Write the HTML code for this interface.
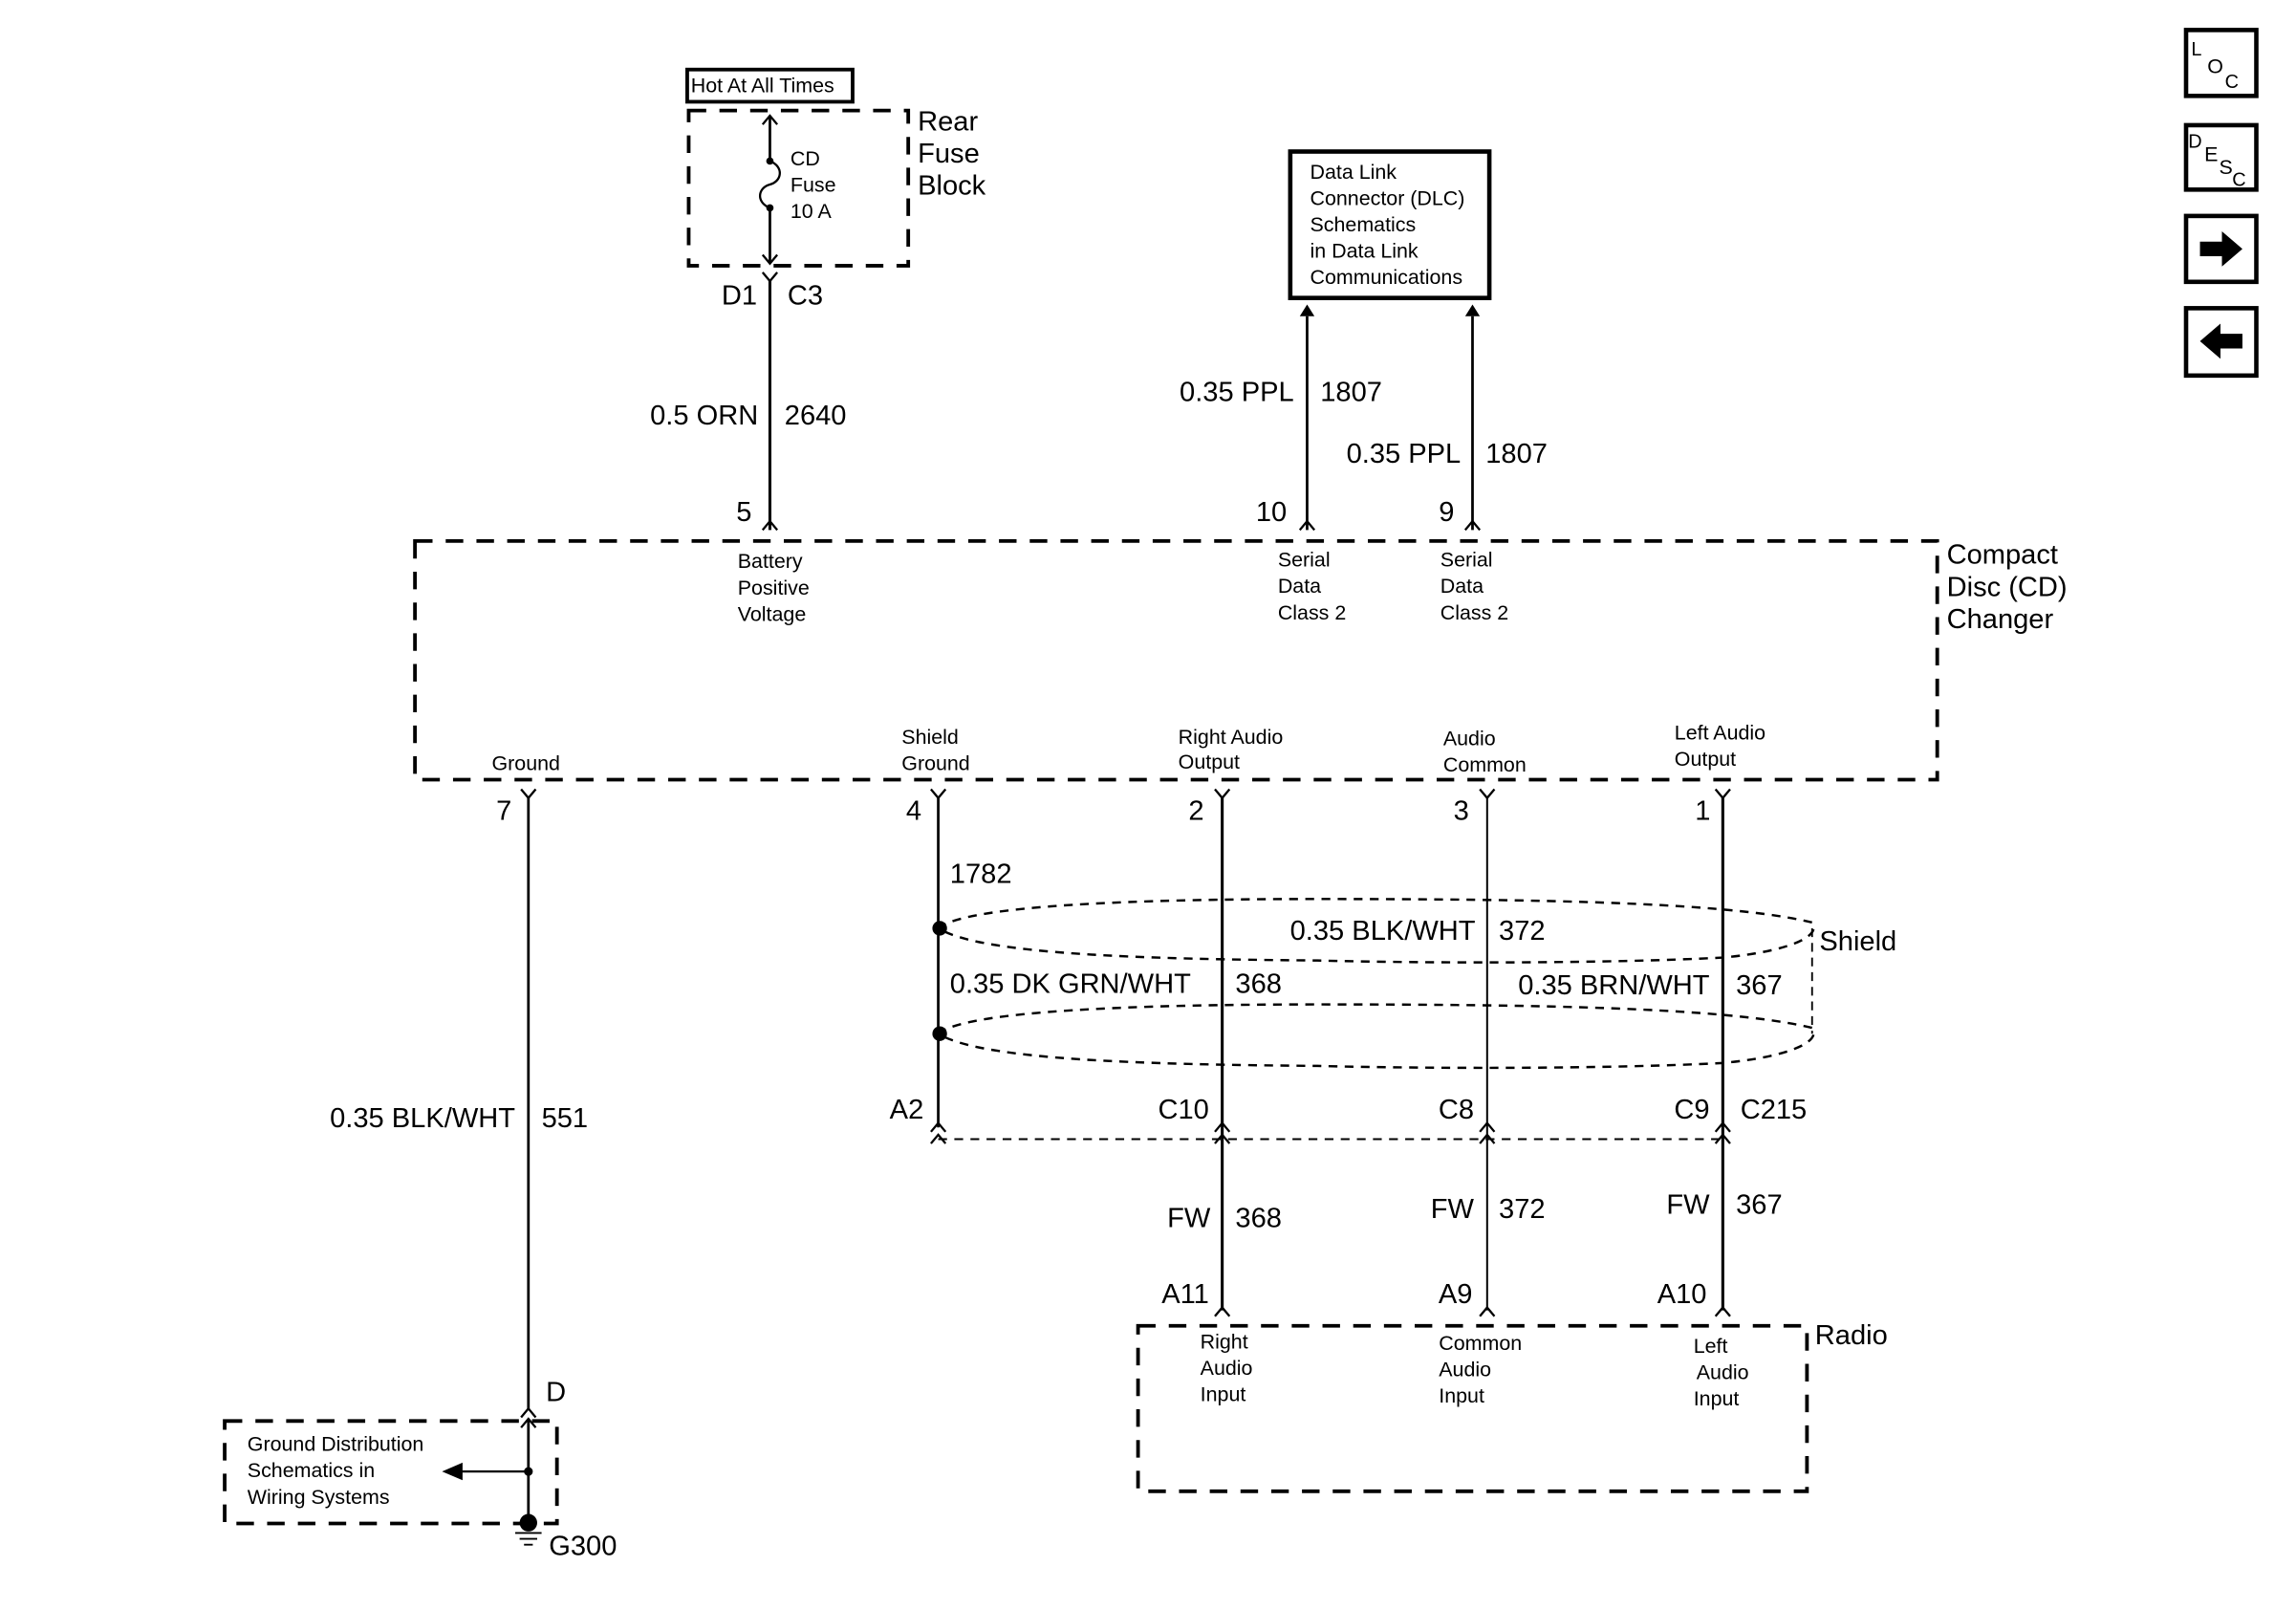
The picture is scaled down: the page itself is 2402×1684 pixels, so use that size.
<!DOCTYPE html>
<html><head><meta charset="utf-8"><style>
html,body{margin:0;padding:0;background:#fff;}
svg{display:block;}
text{font-family:"Liberation Sans",sans-serif;fill:#000;}
.b{font-size:19px;}
.s{font-size:14px;}
</style></head><body>
<svg width="2402" height="1684" viewBox="0 0 1568.6 1099.6" preserveAspectRatio="none" xmlns="http://www.w3.org/2000/svg">
<rect width="1570" height="1100" fill="#fff"/>
<g fill="none" stroke="#000">
<rect x="469.5" y="47.5" width="113" height="22" stroke-width="2.5"/>
<rect x="470.5" y="75.5" width="150" height="106" stroke-width="2.5" stroke-dasharray="12,9"/>
<line x1="526" y1="79" x2="526" y2="110" stroke-width="1.8"/>
<path d="M526 110 C536 114,534 124,526 126 C518 128,516 138,526 142" stroke-width="1.5"/>
<line x1="526" y1="142" x2="526" y2="180" stroke-width="1.8"/>
<path d="M521 85 L526 79 L531 85 M521 174 L526 180 L531 174" stroke-width="1.5"/>
<path d="M521 186 L526 192 L531 186" stroke-width="1.5"/>
<line x1="526" y1="192" x2="526" y2="362" stroke-width="2"/>
<path d="M521 362 L526 356 L531 362" stroke-width="1.5"/>
<rect x="881.5" y="103.5" width="136" height="100" stroke-width="3"/>
<line x1="893" y1="216" x2="893" y2="362" stroke-width="1.8"/>
<line x1="1006" y1="216" x2="1006" y2="362" stroke-width="1.8"/>
<path d="M888 362 L893 356 L898 362 M1001 362 L1006 356 L1011 362" stroke-width="1.5"/>
<rect x="283.5" y="369.5" width="1040" height="163" stroke-width="2.5" stroke-dasharray="12,9"/>
<path d="M356 539 L361 545 L366 539 M636 539 L641 545 L646 539 M830 539 L835 545 L840 539 M1011 539 L1016 545 L1021 539 M1172 539 L1177 545 L1182 539" stroke-width="1.5"/>
<line x1="361" y1="545" x2="361" y2="963" stroke-width="1.8"/>
<line x1="641" y1="545" x2="641" y2="770" stroke-width="1.8"/>
<line x1="835" y1="545" x2="835" y2="895" stroke-width="2"/>
<line x1="1016" y1="545" x2="1016" y2="895" stroke-width="1.3"/>
<line x1="1177" y1="545" x2="1177" y2="895" stroke-width="2"/>
<path d="M641 634 C660 618,780 614,900 614 C1050 614,1180 616,1238 630 C1245 640,1220 650,1177 654 C1100 658,980 658,900 656 C780 655,670 652,641 634" stroke-width="1.6" stroke-dasharray="6,5"/>
<path d="M641 706 C660 690,780 686,900 686 C1050 686,1180 688,1238 702 C1245 712,1220 722,1177 726 C1100 730,980 730,900 728 C780 727,670 724,641 706" stroke-width="1.6" stroke-dasharray="6,5"/>
<line x1="1238" y1="634" x2="1238" y2="706" stroke-width="1.2" stroke-dasharray="6,4"/>
<path d="M636 773 L641 767 L646 773 M830 773 L835 767 L840 773 M1011 773 L1016 767 L1021 773 M1172 773 L1177 767 L1182 773" stroke-width="1.5"/>
<path d="M636 781 L641 775 L646 781 M830 781 L835 775 L840 781 M1011 781 L1016 775 L1021 781 M1172 781 L1177 775 L1182 781" stroke-width="1.5"/>
<line x1="641" y1="778" x2="1177" y2="778" stroke-width="1.3" stroke-dasharray="6,5"/>
<path d="M830 899 L835 893 L840 899 M1011 899 L1016 893 L1021 899 M1172 899 L1177 893 L1182 899" stroke-width="1.5"/>
<rect x="777.5" y="905.5" width="457" height="113" stroke-width="2.5" stroke-dasharray="12,9"/>
<path d="M356 968 L361 962 L366 968 M356 975 L361 969 L366 975" stroke-width="1.5"/>
<rect x="153.5" y="970.5" width="227" height="70" stroke-width="2.5" stroke-dasharray="12,9"/>
<line x1="361" y1="969" x2="361" y2="1040" stroke-width="1.8"/>
<line x1="314" y1="1005" x2="361" y2="1005" stroke-width="1.5"/>
<path d="M352 1047 H370 M355 1051 H367 M358 1055 H364" stroke-width="1.2"/>
<rect x="1493.5" y="20.5" width="48" height="45" stroke-width="3"/>
<rect x="1493.5" y="85.5" width="48" height="44" stroke-width="3"/>
<rect x="1493.5" y="147.5" width="48" height="45" stroke-width="3"/>
<rect x="1493.5" y="210.5" width="48" height="46" stroke-width="3"/>
</g>
<g fill="#000">
<circle cx="526" cy="110" r="2.5"/><circle cx="526" cy="142" r="2.5"/>
<path d="M888 216 L893 208 L898 216 Z M1001 216 L1006 208 L1011 216 Z"/>
<circle cx="642" cy="634" r="5"/><circle cx="642" cy="706" r="5"/>
<circle cx="361" cy="1005" r="3"/>
<path d="M302 1005 L316 999 L316 1011 Z"/>
<circle cx="361" cy="1040" r="6"/>
<path d="M1503 165 H1518 V158 L1532 170 L1518 182 V175 H1503 Z"/>
<path d="M1532 228 H1517 V221 L1503 233 L1517 245 V238 H1532 Z"/>
</g>
<text x="472" y="63" class="s">Hot At All Times</text>
<text x="627" y="89" class="b">Rear</text>
<text x="627" y="111" class="b">Fuse</text>
<text x="627" y="133" class="b">Block</text>
<text x="540" y="113" class="s">CD</text>
<text x="540" y="131" class="s">Fuse</text>
<text x="540" y="149" class="s">10 A</text>
<text x="493" y="208" class="b">D1</text>
<text x="538" y="208" class="b">C3</text>
<text x="518" y="290" class="b" text-anchor="end">0.5 ORN</text>
<text x="536" y="290" class="b">2640</text>
<text x="503" y="356" class="b">5</text>
<text x="895" y="122" class="s">Data Link</text>
<text x="895" y="140" class="s">Connector (DLC)</text>
<text x="895" y="158" class="s">Schematics</text>
<text x="895" y="176" class="s">in Data Link</text>
<text x="895" y="194" class="s">Communications</text>
<text x="884" y="274" class="b" text-anchor="end">0.35 PPL</text>
<text x="902" y="274" class="b">1807</text>
<text x="998" y="316" class="b" text-anchor="end">0.35 PPL</text>
<text x="1015" y="316" class="b">1807</text>
<text x="858" y="356" class="b">10</text>
<text x="983" y="356" class="b">9</text>
<text x="1330" y="385" class="b">Compact</text>
<text x="1330" y="407" class="b">Disc (CD)</text>
<text x="1330" y="429" class="b">Changer</text>
<text x="504" y="388" class="s">Battery</text>
<text x="504" y="406" class="s">Positive</text>
<text x="504" y="424" class="s">Voltage</text>
<text x="873" y="387" class="s">Serial</text>
<text x="873" y="405" class="s">Data</text>
<text x="873" y="423" class="s">Class 2</text>
<text x="984" y="387" class="s">Serial</text>
<text x="984" y="405" class="s">Data</text>
<text x="984" y="423" class="s">Class 2</text>
<text x="336" y="526" class="s">Ground</text>
<text x="616" y="508" class="s">Shield</text>
<text x="616" y="526" class="s">Ground</text>
<text x="805" y="508" class="s">Right Audio</text>
<text x="805" y="525" class="s">Output</text>
<text x="986" y="509" class="s">Audio</text>
<text x="986" y="527" class="s">Common</text>
<text x="1144" y="505" class="s">Left Audio</text>
<text x="1144" y="523" class="s">Output</text>
<text x="339" y="560" class="b">7</text>
<text x="619" y="560" class="b">4</text>
<text x="812" y="560" class="b">2</text>
<text x="993" y="560" class="b">3</text>
<text x="1158" y="560" class="b">1</text>
<text x="649" y="603" class="b">1782</text>
<text x="1008" y="642" class="b" text-anchor="end">0.35 BLK/WHT</text>
<text x="1024" y="642" class="b">372</text>
<text x="649" y="678" class="b">0.35 DK GRN/WHT</text>
<text x="844" y="678" class="b">368</text>
<text x="1168" y="679" class="b" text-anchor="end">0.35 BRN/WHT</text>
<text x="1186" y="679" class="b">367</text>
<text x="1243" y="649" class="b">Shield</text>
<text x="352" y="770" class="b" text-anchor="end">0.35 BLK/WHT</text>
<text x="370" y="770" class="b">551</text>
<text x="631" y="764" class="b" text-anchor="end">A2</text>
<text x="826" y="764" class="b" text-anchor="end">C10</text>
<text x="1007" y="764" class="b" text-anchor="end">C8</text>
<text x="1168" y="764" class="b" text-anchor="end">C9</text>
<text x="1189" y="764" class="b">C215</text>
<text x="827" y="838" class="b" text-anchor="end">FW</text>
<text x="844" y="838" class="b">368</text>
<text x="1007" y="832" class="b" text-anchor="end">FW</text>
<text x="1024" y="832" class="b">372</text>
<text x="1168" y="829" class="b" text-anchor="end">FW</text>
<text x="1186" y="829" class="b">367</text>
<text x="826" y="890" class="b" text-anchor="end">A11</text>
<text x="1006" y="890" class="b" text-anchor="end">A9</text>
<text x="1166" y="890" class="b" text-anchor="end">A10</text>
<text x="1240" y="918" class="b">Radio</text>
<text x="820" y="921" class="s">Right</text>
<text x="820" y="939" class="s">Audio</text>
<text x="820" y="957" class="s">Input</text>
<text x="983" y="922" class="s">Common</text>
<text x="983" y="940" class="s">Audio</text>
<text x="983" y="958" class="s">Input</text>
<text x="1157" y="924" class="s">Left</text>
<text x="1159" y="942" class="s">Audio</text>
<text x="1157" y="960" class="s">Input</text>
<text x="373" y="957" class="b">D</text>
<text x="169" y="991" class="s">Ground Distribution</text>
<text x="169" y="1009" class="s">Schematics in</text>
<text x="169" y="1027" class="s">Wiring Systems</text>
<text x="375" y="1062" class="b">G300</text>
<text x="1497" y="38" style="font-size:13px">L</text>
<text x="1508" y="50" style="font-size:14px">O</text>
<text x="1520" y="60" style="font-size:13px">C</text>
<text x="1495" y="101" style="font-size:13px">D</text>
<text x="1506" y="110" style="font-size:14px">E</text>
<text x="1516" y="119" style="font-size:14px">S</text>
<text x="1525" y="127" style="font-size:13px">C</text>
</svg>
</body></html>
